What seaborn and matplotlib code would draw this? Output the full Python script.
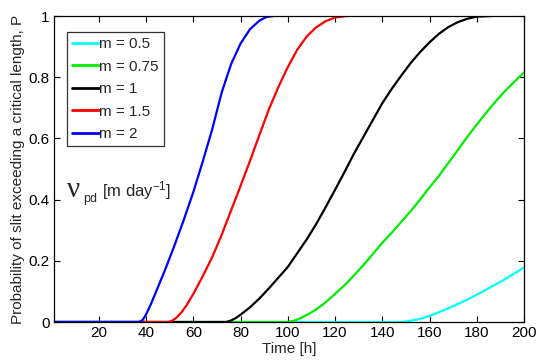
import matplotlib
matplotlib.use("Agg")
import matplotlib.pyplot as plt
import seaborn as sns
import pandas as pd

# Probability curves for each exponent m (time in hours)
labels = ["m = 0.5", "m = 0.75", "m = 1", "m = 1.5", "m = 2"]
colors = ["#00ffff", "#00ee00", "#000000", "#ff0000", "#0000ff"]

t_m05 = [1, 148, 152, 156, 160, 164, 168, 172, 176, 180, 184, 188, 192, 196, 200]
p_m05 = [0, 0, 0.004, 0.010, 0.020, 0.032, 0.045, 0.059, 0.073, 0.089,
         0.106, 0.123, 0.140, 0.159, 0.178]

t_m075 = [1, 100, 103, 106, 109, 112, 116, 120, 124, 128, 132, 136, 140, 144,
          148, 152, 156, 160, 164, 168, 172, 176, 180, 184, 188, 192, 196, 200]
p_m075 = [0, 0, 0.005, 0.015, 0.027, 0.041, 0.064, 0.092, 0.120, 0.152, 0.186,
          0.222, 0.259, 0.292, 0.327, 0.362, 0.400, 0.440, 0.478, 0.520, 0.562,
          0.605, 0.645, 0.684, 0.721, 0.755, 0.786, 0.815]

t_m1 = [1, 74, 76, 78, 80, 84, 88, 92, 96, 100, 104, 108, 112, 116, 120, 124,
        128, 132, 136, 140, 144, 148, 152, 156, 160, 164, 168, 172, 176, 180, 186]
p_m1 = [0, 0, 0.005, 0.013, 0.024, 0.048, 0.077, 0.110, 0.145, 0.180, 0.225,
        0.270, 0.320, 0.375, 0.432, 0.490, 0.550, 0.605, 0.660, 0.715, 0.762,
        0.805, 0.846, 0.882, 0.914, 0.942, 0.964, 0.980, 0.991, 0.998, 1.0]

t_m15 = [1, 49.5, 51, 53, 55, 57, 60, 64, 68, 72, 76, 80, 84, 88, 92, 96, 100,
         104, 108, 112, 116, 120, 125]
p_m15 = [0, 0, 0.004, 0.015, 0.032, 0.053, 0.092, 0.150, 0.212, 0.285, 0.365,
         0.445, 0.527, 0.612, 0.695, 0.768, 0.833, 0.890, 0.933, 0.963, 0.983,
         0.995, 1.0]

t_m2 = [1, 37, 38.5, 40, 42, 44, 48, 52, 56, 60, 64, 68, 72, 76, 80, 84, 88, 91, 94]
p_m2 = [0, 0, 0.006, 0.025, 0.058, 0.095, 0.170, 0.250, 0.335, 0.425, 0.525,
        0.630, 0.750, 0.843, 0.910, 0.957, 0.985, 0.997, 1.0]

x_ticks = [20, 40, 60, 80, 100, 120, 140, 160, 180, 200]
y_ticks = [0, 0.2, 0.4, 0.6, 0.8, 1]
y_ticklabels = ["0", "0.2", "0.4", "0.6", "0.8", "1"]

series = [(t_m05, p_m05), (t_m075, p_m075), (t_m1, p_m1), (t_m15, p_m15), (t_m2, p_m2)]
frames = []
for lab, (t, p) in zip(labels, series):
    frames.append(pd.DataFrame({"Time": t, "P": p, "m": lab}))
df = pd.concat(frames, ignore_index=True)

sns.set_style("ticks")
plt.rcParams["font.family"] = ["Liberation Sans", "DejaVu Sans"]
plt.rcParams["mathtext.fontset"] = "custom"
plt.rcParams["mathtext.rm"] = "Liberation Sans"
plt.rcParams["mathtext.it"] = "Liberation Sans:italic"

fig = plt.figure(figsize=(5.36, 3.62), dpi=100)
ax = fig.add_axes([54 / 536, 1 - 322 / 362, 470 / 536, 306 / 362])

sns.lineplot(data=df, x="Time", y="P", hue="m", hue_order=labels,
             palette=colors, linewidth=1.6, sort=False, estimator=None,
             ax=ax)

ax.set_xlim(1, 200)
ax.set_ylim(0, 1)
ax.set_xticks(x_ticks)
ax.set_yticks(y_ticks)
ax.set_yticklabels(y_ticklabels)
ax.tick_params(direction="in", length=4, width=0.8, top=True, right=True,
               labelsize=11, pad=3, colors="black")
for s in ax.spines.values():
    s.set_visible(True)
    s.set_linewidth(0.9)
    s.set_color("black")

ax.set_xlabel("Time [h]", fontsize=11, labelpad=1)
ax.set_ylabel("Probability of slit exceeding a critical length, P",
              fontsize=11, labelpad=3)

handles, _ = ax.get_legend_handles_labels()
leg = ax.legend(handles, labels, loc="upper left",
                bbox_to_anchor=(12.5 / 470, 1 - 16 / 306),
                frameon=True, fancybox=False, fontsize=11,
                handlelength=1.75, handletextpad=0.05, labelspacing=0.55,
                borderpad=0.35, borderaxespad=0)
leg.get_frame().set_edgecolor("black")
leg.get_frame().set_linewidth(0.9)
for h in leg.get_lines():
    h.set_linewidth(2)

# Velocity annotation inside the axes
ax.text(6.5, 0.41, "ν", fontsize=21, family="Liberation Serif", va="baseline")
ax.text(13.2, 0.392, "pd", fontsize=9, va="baseline")
ax.text(21.3, 0.41, r"[m day$^{\mathregular{-1}}$]", fontsize=12, va="baseline")

fig.savefig("out.png", dpi=100)
